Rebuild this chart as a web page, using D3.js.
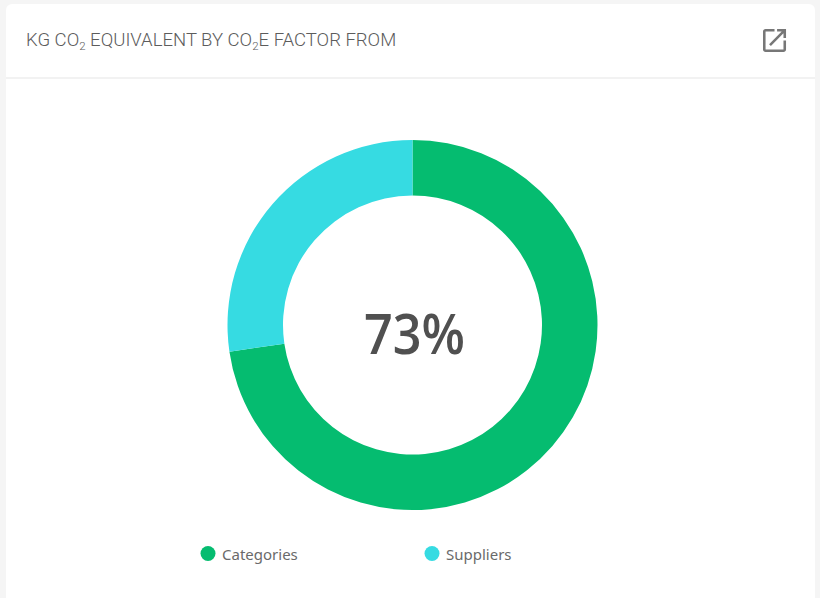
<!DOCTYPE html>
<html>
<head>
<meta charset="utf-8">
<script src="https://cdnjs.cloudflare.com/ajax/libs/d3/7.8.5/d3.min.js"></script>
<style>
  html, body { margin: 0; padding: 0; background: #f5f5f5; overflow: hidden; }
</style>
</head>
<body>
<div id="chart"></div>
<script>
var categories = ['Categories', 'Suppliers']
var values = [72.7, 27.3]
var colors = ['#05bc70', '#36dbe2']
var centerLabel = '73%'

var width = 820
var height = 598

var svg = d3.select('#chart')
  .append('svg')
  .attr('width', width)
  .attr('height', height)
  .style('display', 'block')

// card
svg.append('rect')
  .attr('x', 6)
  .attr('y', 4)
  .attr('width', 809)
  .attr('height', 610)
  .attr('rx', 6)
  .attr('fill', '#fff')

svg.append('line')
  .attr('x1', 6)
  .attr('x2', 815)
  .attr('y1', 78)
  .attr('y2', 78)
  .attr('stroke', '#eeeeee')
  .attr('stroke-width', 1.5)

// title, the subscripts are tspans
var title = svg.append('text')
  .attr('x', 26)
  .attr('y', 45.5)
  .attr('fill', '#5c5c5c')
  .style('font-family', 'Roboto, sans-serif')
  .style('font-weight', 300)
  .style('font-size', '18.55px')

var parts = [['KG CO', 0], ['2', 1], [' EQUIVALENT BY CO', 0], ['2', 1], ['E FACTOR FROM', 0]]
parts.forEach(function(p) {
  var t = title.append('tspan').text(p[0])
  if (p[1]) {
    t.attr('dy', 4).style('font-size', '11.5px')
  } else if (title.selectAll('tspan').size() > 1) {
    t.attr('dy', -4)
  }
})

// open in new icon
var icon = svg.append('g')
  .attr('transform', 'translate(763,29) scale(1.28)')
icon.append('path')
  .attr('d', 'M19 19H5V5h7V3H5c-1.11 0-2 .9-2 2v14c0 1.1.89 2 2 2h14c1.1 0 2-.9 2-2v-7h-2v7zM14 3v2h3.59l-9.83 9.83 1.41 1.41L19 6.41V10h2V3h-7z')
  .attr('transform', 'translate(-3,-3)')
  .attr('fill', '#777')

// donut
var radius = 185
var inner = 129.5
var pie = d3.pie().sort(null).value(function(d) { return d })
var arc = d3.arc().innerRadius(inner).outerRadius(radius)

var donut = svg.append('g')
  .attr('transform', 'translate(412.5,325)')

donut.selectAll('path')
  .data(pie(values))
  .enter()
  .append('path')
  .attr('d', arc)
  .attr('fill', function(d, i) { return colors[i] })

donut.append('text')
  .text(centerLabel)
  .attr('x', 2)
  .attr('y', 29)
  .attr('text-anchor', 'middle')
  .attr('textLength', 101)
  .attr('lengthAdjust', 'spacingAndGlyphs')
  .attr('fill', '#505050')
  .style('font-family', '"Open Sans", sans-serif')
  .style('font-weight', 600)
  .style('font-size', '56px')

// legend
var legendX = d3.scalePoint().domain(categories).range([208, 432])

var legend = svg.selectAll('.legend')
  .data(categories)
  .enter()
  .append('g')
  .attr('class', 'legend')
  .attr('transform', function(d) { return 'translate(' + legendX(d) + ',553.5)' })

legend.append('circle')
  .attr('r', 7.5)
  .attr('fill', function(d, i) { return colors[i] })

legend.append('text')
  .text(function(d) { return d })
  .attr('x', 14)
  .attr('y', 6)
  .attr('fill', '#6a6a6a')
  .style('font-family', '"Noto Sans", sans-serif')
  .style('font-size', '15px')
</script>
</body>
</html>
